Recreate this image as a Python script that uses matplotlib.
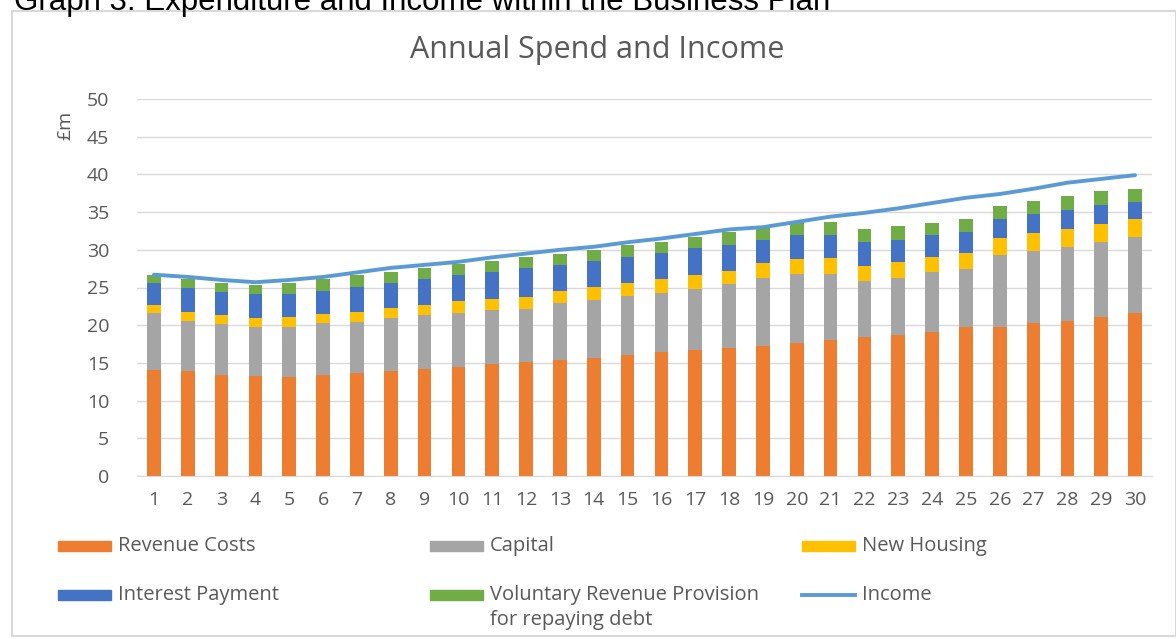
import numpy as np
import matplotlib.pyplot as plt
from matplotlib.patches import Rectangle
from matplotlib.lines import Line2D

years = np.arange(1, 31)

revenue_costs = [14.1, 13.9, 13.4, 13.3, 13.1, 13.4, 13.7, 13.9, 14.2, 14.5,
                 14.8, 15.1, 15.4, 15.7, 16.1, 16.4, 16.7, 17.0, 17.3, 17.6,
                 18.1, 18.4, 18.7, 19.1, 19.7, 19.8, 20.3, 20.6, 21.1, 21.6]
capital = [7.5, 6.6, 6.7, 6.5, 6.7, 6.9, 6.7, 7.1, 7.1, 7.1,
           7.2, 7.1, 7.5, 7.6, 7.8, 7.9, 8.1, 8.4, 9.0, 9.2,
           8.7, 7.5, 7.6, 7.9, 7.7, 9.5, 9.5, 9.8, 9.9, 10.1]
new_housing = [1.1, 1.3, 1.2, 1.2, 1.3, 1.2, 1.3, 1.3, 1.4, 1.6,
               1.5, 1.6, 1.6, 1.8, 1.7, 1.8, 1.9, 1.8, 1.9, 2.0,
               2.1, 2.0, 2.1, 2.0, 2.2, 2.2, 2.4, 2.3, 2.4, 2.4]
interest_payment = [2.85, 3.2, 3.1, 3.1, 3.0, 3.1, 3.4, 3.25, 3.4, 3.4,
                    3.5, 3.8, 3.5, 3.4, 3.5, 3.5, 3.5, 3.5, 3.1, 3.1,
                    3.0, 3.1, 2.9, 2.9, 2.7, 2.6, 2.5, 2.6, 2.5, 2.2]
voluntary_provision = [1.1, 1.1, 1.2, 1.2, 1.5, 1.5, 1.5, 1.55, 1.5, 1.5,
                       1.5, 1.5, 1.5, 1.5, 1.5, 1.5, 1.5, 1.6, 1.6, 1.6,
                       1.8, 1.8, 1.8, 1.7, 1.8, 1.7, 1.8, 1.8, 1.9, 1.8]
income = [26.7, 26.4, 26.0, 25.7, 26.0, 26.4, 27.0, 27.6, 28.0, 28.4,
          29.0, 29.5, 30.0, 30.4, 31.0, 31.5, 32.1, 32.7, 33.0, 33.7,
          34.4, 34.9, 35.5, 36.2, 36.9, 37.4, 38.1, 38.9, 39.4, 39.9]

series = [
    ("Revenue Costs", revenue_costs, "#ED7D31"),
    ("Capital", capital, "#A5A5A5"),
    ("New Housing", new_housing, "#FFC000"),
    ("Interest Payment", interest_payment, "#4472C4"),
    ("Voluntary Revenue Provision\nfor repaying debt", voluntary_provision, "#70AD47"),
]
income_colour = "#5B9BD5"
grey_text = "#595959"

W, H = 1176, 639
fig = plt.figure(figsize=(W / 100, H / 100), dpi=100)
plt.rcParams['font.family'] = ['Open Sans', 'DejaVu Sans']


def fx(px):
    return px / W


def fy(py):
    return 1 - py / H


# chart frame
fig.add_artist(Rectangle((fx(12), fy(636)), fx(1176) - fx(12), fy(11) - fy(636),
                         transform=fig.transFigure, fill=False,
                         edgecolor="#D9D9D9", lw=1.5))
# document caption above the chart, cut at the top edge as in the source
fig.text(fx(14), fy(10), "Graph 3: Expenditure and Income within the Business Plan",
         fontsize=22.5, family="Liberation Sans", color="black", va="baseline")

ax = fig.add_axes([fx(137), fy(476), fx(1152) - fx(137), fy(99) - fy(476)])

bottom = np.zeros(len(years))
for name, vals, col in series:
    ax.bar(years, vals, width=0.4, bottom=bottom, color=col, zorder=2)
    bottom += np.array(vals)
ax.plot(years, income, color=income_colour, lw=2.8, zorder=3,
        solid_capstyle="round")

ax.set_xlim(0.5, 30.5)
ax.set_ylim(0, 50)
ax.set_yticks(range(0, 51, 5))
ax.set_xticks(years)
ax.grid(axis="y", color="#D9D9D9", lw=1, zorder=0)
for s in ["top", "right", "left"]:
    ax.spines[s].set_visible(False)
ax.spines["bottom"].set_color("#D9D9D9")
ax.tick_params(length=0, labelsize=14, labelcolor=grey_text)
ax.tick_params(axis="y", pad=20)
ax.tick_params(axis="x", pad=11)

fig.text(fx(65), fy(125), "£m", rotation=90, fontsize=14, color=grey_text,
         ha="center", va="center")
fig.text(fx(597), fy(50), "Annual Spend and Income", fontsize=22,
         color=grey_text, ha="center", va="center")

# legend, laid out like the original spreadsheet chart
legend_slots = [(58, 546), (430, 546), (802, 546), (58, 595), (430, 595)]
for (px, py), (name, vals, col) in zip(legend_slots, series):
    fig.add_artist(Rectangle((fx(px), fy(py + 5)), fx(53), 10 / H,
                             transform=fig.transFigure, color=col))
    lines = name.split("\n")
    for k, line in enumerate(lines):
        fig.text(fx(px + 60), fy(py + 25 * k), line, fontsize=14.5,
                 color=grey_text, va="center")
fig.add_artist(Line2D([fx(802), fx(855)], [fy(595), fy(595)],
                      transform=fig.transFigure, color=income_colour, lw=2.8))
fig.text(fx(862), fy(595), "Income", fontsize=14.5, color=grey_text, va="center")

fig.savefig("out.png", dpi=100)
